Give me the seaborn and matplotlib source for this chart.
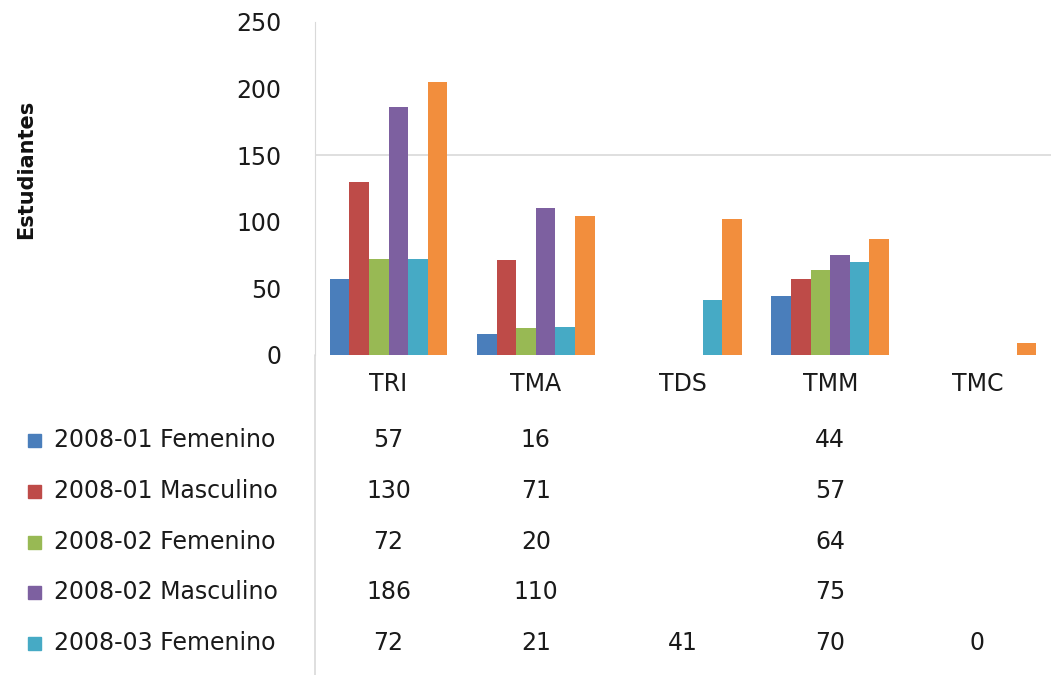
import numpy as np
import pandas as pd
import matplotlib
matplotlib.use("Agg")
import matplotlib.pyplot as plt
import matplotlib.transforms as mtransforms
from matplotlib.lines import Line2D
from matplotlib.patches import Rectangle
import seaborn as sb

carreras = ["TRI", "TMA", "TDS", "TMM", "TMC"]
series = ["2008-01 Femenino", "2008-01 Masculino", "2008-02 Femenino",
          "2008-02 Masculino", "2008-03 Femenino", "2008-03 Masculino"]
f_2008_01 = [57, 16, np.nan, 44, np.nan]
m_2008_01 = [130, 71, np.nan, 57, np.nan]
f_2008_02 = [72, 20, np.nan, 64, np.nan]
m_2008_02 = [186, 110, np.nan, 75, np.nan]
f_2008_03 = [72, 21, 41, 70, 0]
m_2008_03 = [205, 104, 102, 87, 9]   # row not visible in the table
colores = ["#4A7EBB", "#BE4B48", "#98B954", "#7D60A0", "#46AAC5", "#F28E3D"]

valores = [f_2008_01, m_2008_01, f_2008_02, m_2008_02, f_2008_03, m_2008_03]
filas = []
for s, vals in zip(series, valores):
    for c, v in zip(carreras, vals):
        filas.append({"carrera": c, "serie": s, "estudiantes": v})
df = pd.DataFrame(filas)

sb.set_style("white")
plt.rcParams["font.family"] = ["DejaVu Sans"]

W, H = 1061, 675
fs = 17
fig = plt.figure(figsize=(W / 100, H / 100), dpi=100)
ax = fig.add_axes([315 / W, 1 - 355 / H, 736 / W, 333 / H])

sb.barplot(data=df, x="carrera", y="estudiantes", hue="serie", hue_order=series,
           palette=colores, width=0.8, gap=0, saturation=1, linewidth=0,
           legend=False, ax=ax)

ax.set_ylim(0, 250)
ax.set_xlim(-0.5, len(carreras) - 0.5)
ax.set_yticks([0, 50, 100, 150, 200, 250])
ax.axhline(150, color="#d9d9d9", lw=1.2, zorder=0)
ax.set_xlabel("")
ax.set_ylabel("")
ax.tick_params(axis="y", length=0, pad=24, labelsize=fs, labelcolor="#1a1a1a")
ax.tick_params(axis="x", length=0, pad=12, labelsize=fs, labelcolor="#1a1a1a")
for side in ["top", "right", "bottom"]:
    ax.spines[side].set_visible(False)
ax.spines["left"].set_color("#d9d9d9")

# vertical line continuing through the data table
fig.add_artist(Line2D([315 / W, 315 / W], [0, 1 - 355 / H], color="#d9d9d9", lw=1.2))

fig.text(26 / W, 1 - 169 / H, "Estudiantes", rotation=90, fontsize=15,
         fontweight="bold", ha="center", va="center", color="#111111")

# data table below the chart
trans = mtransforms.blended_transform_factory(ax.transData, fig.transFigure)
filas_y = [440, 491, 542, 592, 643]
for k, y in enumerate(filas_y):
    yf = 1 - y / H
    fig.add_artist(Rectangle((28 / W, yf - 7 / H), 13 / W, 13 / H,
                             transform=fig.transFigure, color=colores[k]))
    fig.text(54 / W, yf, series[k], fontsize=fs, va="center", ha="left", color="#1a1a1a")
    for i, v in enumerate(valores[k]):
        if not np.isnan(v):
            fig.text(i, yf, "%d" % v, transform=trans, fontsize=fs,
                     va="center", ha="center", color="#1a1a1a")

fig.savefig("out.png", dpi=100)
